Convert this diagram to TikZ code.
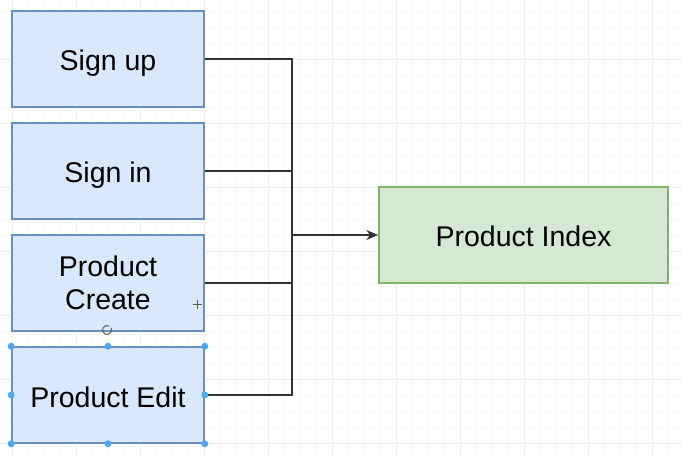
\documentclass[tikz,border=0pt]{standalone}
\usepackage{fontspec}
\setmainfont{Liberation Sans}
\usetikzlibrary{arrows.meta}
\definecolor{bluefill}{HTML}{DAE8FC}
\definecolor{blueline}{HTML}{6C8EBF}
\definecolor{greenfill}{HTML}{D5E8D4}
\definecolor{greenline}{HTML}{82B366}
\definecolor{gridminor}{HTML}{F8F8F8}
\definecolor{gridmajor}{HTML}{EEEEEE}
\definecolor{handle}{HTML}{4FA8F0}
\tikzset{
  boxfont/.style={font=\fontsize{28.5}{33}\selectfont},
  pagebox/.style={draw=blueline, fill=bluefill, line width=1.6pt, minimum width=192pt, minimum height=96pt, inner sep=0pt, align=center, boxfont, text height=24pt, text depth=0pt},
  twoline/.style={text height={}, text depth={}},
  targetbox/.style={draw=greenline, fill=greenfill, line width=1.6pt, minimum width=289pt, minimum height=96pt, inner sep=0pt, boxfont, text height=24pt, text depth=0pt},
  wire/.style={draw=black!80, line width=1.6pt},
  handledot/.style={circle, fill=handle, inner sep=0pt, minimum size=7pt},
  uimark/.style={draw=black!65, line width=1pt}
}
\begin{document}
\begin{tikzpicture}[x=1pt,y=-1pt]
\useasboundingbox (0,0) rectangle (681,457);
\fill[white] (0,0) rectangle (681,457);
% grid
\foreach \k in {-4,12,...,680} {\draw[gridminor, line width=0.6pt] ({\k},0) -- ({\k},457);}
\foreach \k in {-5,11,...,460} {\draw[gridminor, line width=0.6pt] (0,{\k}) -- (681,{\k});}
\foreach \k in {12,76,...,680} {\draw[gridmajor, line width=0.8pt] ({\k},0) -- ({\k},457);}
\foreach \k in {59,123,...,460} {\draw[gridmajor, line width=0.8pt] (0,{\k}) -- (681,{\k});}
% nodes
\node[pagebox] (signup) at (108,59) {Sign up};
\node[pagebox] (signin) at (108,171) {Sign in};
\node[pagebox, twoline] (create) at (108,283) {Product\\Create};
\node[pagebox] (edit) at (108,395) {Product Edit};
\node[targetbox] (index) at (523.5,235) {Product Index};
\coordinate (bustop) at (292,59);
\coordinate (busbot) at (292,395);
\coordinate (busmid) at (292,235);
% connectors
\draw[wire] (signup.east) -- (bustop) -- (busbot) -- (edit.east);
\draw[wire] (signin.east) -- (signin.east -| bustop);
\draw[wire] (create.east) -- (create.east -| bustop);
\draw[wire, -{Stealth[length=12pt,width=10pt]}] (busmid) -- (index.west);
% selection handles
\foreach \a in {north west, north, north east, west, east, south west, south, south east}
  {\node[handledot] at (edit.\a) {};}
% rotate icon and move cursor
\coordinate (rot) at (107,330);
\draw[uimark] ([shift={(60:4.5pt)}]rot) arc[start angle=60, end angle=390, radius=4.5pt];
\coordinate (cur) at (197,305);
\draw[uimark] ([xshift=-4.5pt]cur) -- ([xshift=4.5pt]cur) ([yshift=-4.5pt]cur) -- ([yshift=4.5pt]cur);
\end{tikzpicture}
\end{document}
